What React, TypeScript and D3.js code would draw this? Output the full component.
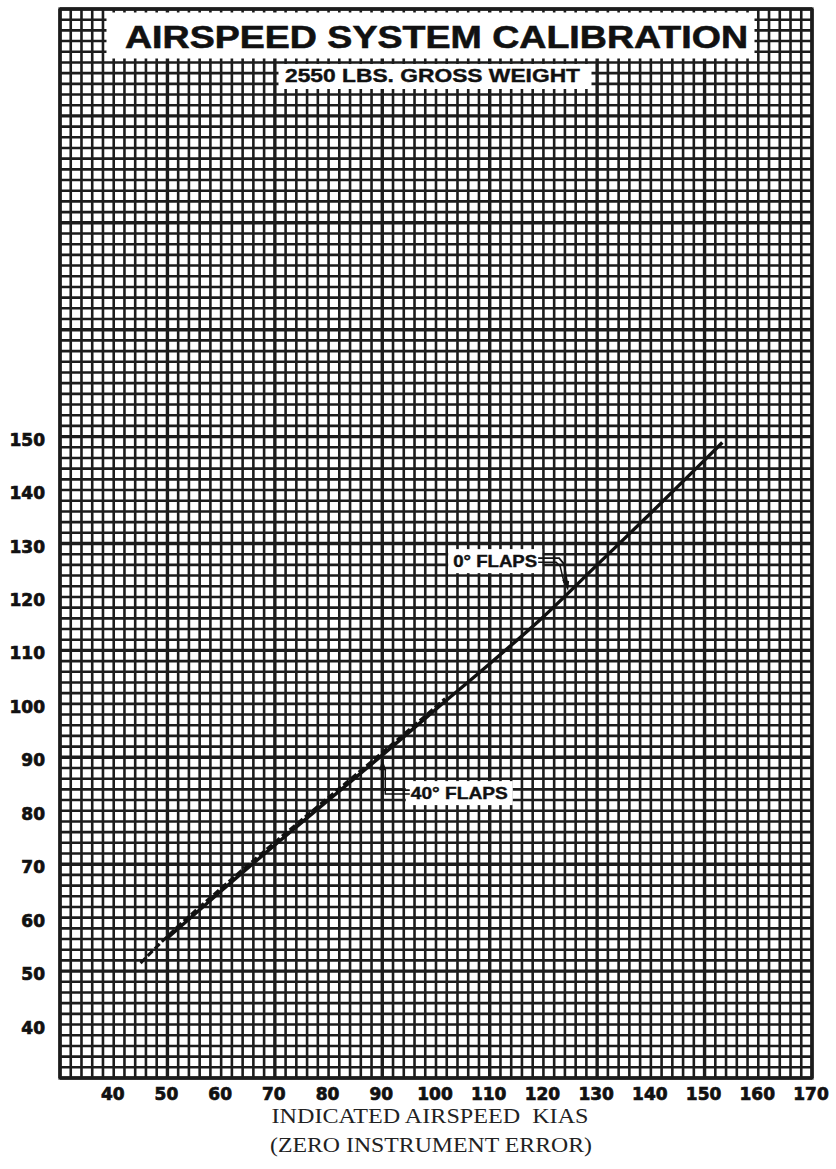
import React from "react";
import * as d3 from "d3";

const W = 836;
const H = 1169;

// Axes domains (knots)
const X_DOMAIN: [number, number] = [30, 170];
const Y_DOMAIN: [number, number] = [30, 230];
const X_TICKS = [40, 50, 60, 70, 80, 90, 100, 110, 120, 130, 140, 150, 160, 170];
const Y_TICKS = [40, 50, 60, 70, 80, 90, 100, 110, 120, 130, 140, 150];
const GRID_STEP = 2;
const MAJOR_STEP = 20;

// 0° flaps calibration (KIAS -> KCAS)
const IAS_FLAPS0 = [50, 60, 70, 80, 90, 100, 110, 120, 130, 140, 150, 153.3];
const CAS_FLAPS0 = [56.2, 65, 73.6, 82, 90.4, 99, 107.5, 116.3, 126, 135.7, 145.6, 148.9];

// 40° flaps calibration (KIAS -> KCAS)
const IAS_FLAPS40 = [45, 50, 60, 70, 80, 90, 100, 101.7];
const CAS_FLAPS40 = [51.5, 56.5, 65.5, 74.1, 82.5, 90.9, 99.5, 101.0];

const TITLE = "AIRSPEED SYSTEM CALIBRATION";
const SUBTITLE = "2550 LBS. GROSS WEIGHT";
const X_TITLE_1 = "INDICATED AIRSPEED  KIAS";
const X_TITLE_2 = "(ZERO INSTRUMENT ERROR)";
const LABEL_0 = "0° FLAPS";
const LABEL_40 = "40° FLAPS";
// annotation anchors in data units
const LABEL_0_POS = { ias: 103.2, cas: 126.7 };
const LABEL_0_TIP = 124.6;
const LABEL_40_POS = { ias: 95.3, cas: 83.3 };
const LABEL_40_TIP = 90;

const INK = "#1c1c1c";

export default function App() {
  const left = 60, right = 812, top = 9, bottom = 1078;
  const x = d3.scaleLinear().domain(X_DOMAIN).range([left, right]);
  const y = d3.scaleLinear().domain(Y_DOMAIN).range([bottom, top]);

  const vLines = d3.range(X_DOMAIN[0], X_DOMAIN[1] + 0.001, GRID_STEP);
  const hLines = d3.range(Y_DOMAIN[0], Y_DOMAIN[1] + 0.001, GRID_STEP);
  const isMajor = (v: number) => Math.abs(((v - 30) % MAJOR_STEP)) < 0.001;

  const line0 = d3
    .line<number>()
    .x((_, i) => x(IAS_FLAPS0[i]))
    .y((_, i) => y(CAS_FLAPS0[i]))
    .curve(d3.curveMonotoneX)(IAS_FLAPS0) as string;
  const line40 = d3
    .line<number>()
    .x((_, i) => x(IAS_FLAPS40[i]))
    .y((_, i) => y(CAS_FLAPS40[i]))
    .curve(d3.curveMonotoneX)(IAS_FLAPS40) as string;

  const cas0 = d3.scaleLinear().domain(IAS_FLAPS0).range(CAS_FLAPS0);

  // 0° flaps annotation
  const l0x = x(LABEL_0_POS.ias);
  const l0y = y(LABEL_0_POS.cas);
  const l0w = 84;
  const tip0x = x(LABEL_0_TIP);
  const tip0y = y(cas0(LABEL_0_TIP)) - 2;

  // 40° flaps annotation
  const l40x = x(LABEL_40_POS.ias);
  const l40y = y(LABEL_40_POS.cas);
  const l40w = 97;
  const tip40x = x(LABEL_40_TIP);
  const tip40y = y(cas0(LABEL_40_TIP)) + 4;

  const boldText = {
    fontFamily: "'Liberation Sans', Arial, sans-serif",
    fontWeight: "bold" as const,
    fill: "#111",
    stroke: "#111",
    strokeWidth: 0.6,
  };
  const tickText = {
    fontFamily: "'DejaVu Sans', sans-serif",
    fontWeight: "bold" as const,
    fontSize: 17,
    fill: "#111",
    stroke: "#111",
    strokeWidth: 0.7,
  };

  return (
    <svg
      width={W}
      height={H}
      viewBox={`0 0 ${W} ${H}`}
      style={{ position: "absolute", left: 0, top: 0, background: "#fff" }}
    >
      <rect x={0} y={0} width={W} height={H} fill="#fff" />
      {/* grid */}
      <g>
        {vLines.map((v) => (
          <line
            key={"v" + v}
            x1={x(v)}
            x2={x(v)}
            y1={top}
            y2={bottom}
            stroke={INK}
            strokeWidth={isMajor(v) ? 3.4 : 2.6}
          />
        ))}
        {hLines.map((v) => (
          <line
            key={"h" + v}
            x1={left}
            x2={right}
            y1={y(v)}
            y2={y(v)}
            stroke={INK}
            strokeWidth={isMajor(v) ? 3.4 : 2.6}
          />
        ))}
        <rect
          x={left}
          y={top}
          width={right - left}
          height={bottom - top}
          fill="none"
          stroke={INK}
          strokeWidth={3.2}
        />
      </g>

      {/* title boxes */}
      <rect x={106.5} y={12.5} width={648} height={46} fill="#fff" />
      <rect x={278.5} y={64} width={313} height={25} fill="#fff" />
      <text x={436.5} y={48} textAnchor="middle" fontSize={32} textLength={623} lengthAdjust="spacingAndGlyphs" {...boldText}>
        {TITLE}
      </text>
      <text x={432.5} y={82} textAnchor="middle" fontSize={19} textLength={295} lengthAdjust="spacingAndGlyphs" {...boldText} strokeWidth={0.4}>
        {SUBTITLE}
      </text>

      {/* curves */}
      <path d={line40} fill="none" stroke="#111" strokeWidth={3} strokeDasharray="7 3" />
      <path d={line0} fill="none" stroke="#111" strokeWidth={3.4} />

      {/* 0° flaps label */}
      <rect x={l0x - 5} y={l0y - 12} width={l0w + 10} height={24} fill="#fff" />
      <text x={l0x} y={l0y + 6} fontSize={16.5} textLength={l0w} lengthAdjust="spacingAndGlyphs" {...boldText} strokeWidth={0.4}>
        {LABEL_0}
      </text>
      <path
        d={`M${l0x + l0w + 1},${l0y - 3} L${tip0x - 9},${l0y - 3} L${tip0x - 4},${l0y + 3} L${tip0x - 1},${tip0y - 8}`}
        fill="none"
        stroke="#111"
        strokeWidth={1.8}
      />
      <path
        d={`M${l0x + l0w + 1},${l0y + 1} L${tip0x - 12},${l0y + 1} L${tip0x - 8},${l0y + 5} L${tip0x - 4},${tip0y - 8}`}
        fill="none"
        stroke="#111"
        strokeWidth={1.5}
      />
      <path d={`M${tip0x},${tip0y} L${tip0x - 6},${tip0y - 11} L${tip0x + 1},${tip0y - 10} Z`} fill="#111" />

      {/* 40° flaps label */}
      <rect x={l40x - 5} y={l40y - 12} width={l40w + 10} height={24} fill="#fff" />
      <text x={l40x} y={l40y + 6} fontSize={16.5} textLength={l40w} lengthAdjust="spacingAndGlyphs" {...boldText} strokeWidth={0.4}>
        {LABEL_40}
      </text>
      <path
        d={`M${tip40x},${tip40y + 8} L${tip40x},${l40y - 3} L${l40x - 1},${l40y - 3}`}
        fill="none"
        stroke="#111"
        strokeWidth={1.8}
      />
      <path
        d={`M${tip40x + 3},${tip40y + 10} L${tip40x + 3},${l40y + 1} L${l40x - 1},${l40y + 1}`}
        fill="none"
        stroke="#111"
        strokeWidth={1.5}
      />
      <path d={`M${tip40x},${tip40y} L${tip40x - 3},${tip40y + 11} L${tip40x + 4},${tip40y + 11} Z`} fill="#111" />

      {/* y tick labels */}
      {Y_TICKS.map((v) => (
        <text key={"yt" + v} x={45} y={y(v) + 9} textAnchor="end" {...tickText}>
          {v}
        </text>
      ))}
      {/* x tick labels */}
      {X_TICKS.map((v) => (
        <text key={"xt" + v} x={x(v) - 1} y={1100} textAnchor="middle" {...tickText}>
          {v}
        </text>
      ))}

      {/* x axis title */}
      <text
        x={430}
        y={1123}
        textAnchor="middle"
        fontFamily="'Liberation Serif', 'Times New Roman', serif"
        fontSize={21}
        textLength={317}
        lengthAdjust="spacingAndGlyphs"
        style={{ whiteSpace: "pre" }}
        fill="#222"
      >
        {X_TITLE_1}
      </text>
      <text
        x={431}
        y={1152}
        textAnchor="middle"
        fontFamily="'Liberation Serif', 'Times New Roman', serif"
        fontSize={21}
        textLength={322}
        lengthAdjust="spacingAndGlyphs"
        fill="#222"
      >
        {X_TITLE_2}
      </text>
    </svg>
  );
}
